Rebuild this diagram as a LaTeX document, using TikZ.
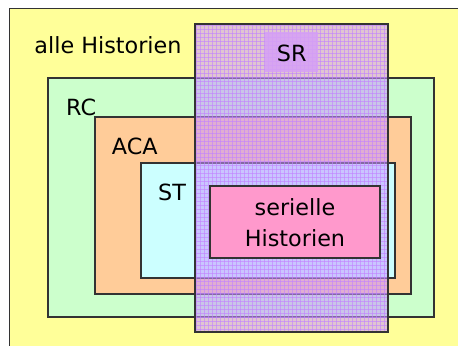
\documentclass[tikz,border=0pt]{standalone}
\usepackage{fontspec}
\setmainfont{DejaVu Sans}
\usetikzlibrary{positioning}

\definecolor{allecol}{HTML}{FFFF99}
\definecolor{rccol}{HTML}{CCFFCC}
\definecolor{acacol}{HTML}{FFCC99}
\definecolor{stcol}{HTML}{CCFFFF}
\definecolor{sercol}{HTML}{FF99CC}
\definecolor{srcol}{RGB}{200,150,255}
\definecolor{srgrid}{RGB}{195,130,255}
\definecolor{srlabel}{RGB}{214,160,246}
\definecolor{edgecol}{HTML}{333333}

\begin{document}
\begin{tikzpicture}[x=1bp, y=-1bp,
    box/.style={draw=edgecol, line width=1.2bp},
    lbl/.style={font=\fontsize{22.3bp}{31bp}\selectfont, inner sep=0pt, anchor=base west}]
    \useasboundingbox (0,0) rectangle (458,345);

    % Nested classes of histories
    \draw[box, fill=allecol] (9.5,8.5) rectangle (470,360);
    \draw[box, fill=rccol] (48,78) rectangle (434,317);
    \draw[box, fill=acacol] (95,117) rectangle (411,294);
    \draw[box, fill=stcol] (141,163) rectangle (395,278);

    % SR overlay (transparent, hatched grid)
    \fill[srcol, opacity=0.55] (195,24) rectangle (388,332);
    \begin{scope}
        \clip (195,24) rectangle (388,332);
        \foreach \gx in {0,...,48}
            \draw[srgrid, opacity=0.6, line width=0.9bp] (196+4*\gx,24) -- (196+4*\gx,332);
        \foreach \gy in {0,...,77}
            \draw[srgrid, opacity=0.6, line width=0.9bp] (195,25+4*\gy) -- (388,25+4*\gy);
    \end{scope}
    \fill[srlabel, opacity=0.85] (265,32) rectangle (318,72);
    \draw[box] (195,24) rectangle (388,332);

    % Serial histories
    \draw[box, fill=sercol] (210,186) rectangle (380,258);

    % Labels
    \node[lbl] (alle) at (34.3,53.3) {alle Historien};
    \node[lbl] (rc) at (66,115) {RC};
    \node[lbl] (aca) at (111.7,154) {ACA};
    \node[lbl] (st) at (158,200) {ST};
    \node[lbl] (sr) at (276.7,61.7) {SR};
    \node[lbl, anchor=base, align=center] (ser) at (295,246) {serielle\\Historien};

\end{tikzpicture}
\end{document}
